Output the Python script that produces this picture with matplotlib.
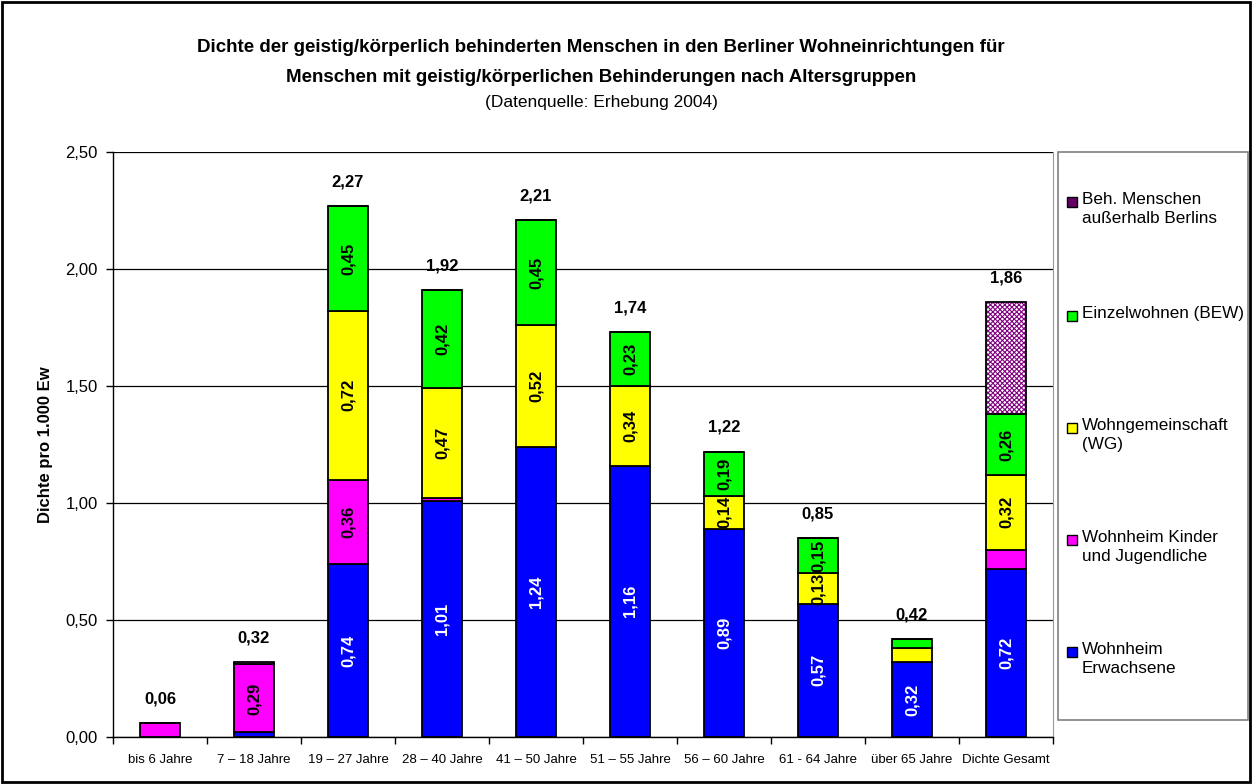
import matplotlib
matplotlib.use("Agg")
import matplotlib.pyplot as plt
from matplotlib.patches import Rectangle
from matplotlib.ticker import FuncFormatter
import numpy as np

plt.rcParams['font.family'] = ['Liberation Sans', 'DejaVu Sans']
plt.rcParams['hatch.linewidth'] = 0.8

# data
categories = ['bis 6 Jahre', '7 – 18 Jahre', '19 – 27 Jahre', '28 – 40 Jahre', '41 – 50 Jahre',
              '51 – 55 Jahre', '56 – 60 Jahre', '61 - 64 Jahre', 'über 65 Jahre', 'Dichte Gesamt']
wohnheim_erw = [0.00, 0.02, 0.74, 1.01, 1.24, 1.16, 0.89, 0.57, 0.32, 0.72]
wohnheim_kinder = [0.06, 0.29, 0.36, 0.01, 0.00, 0.00, 0.00, 0.00, 0.00, 0.08]
wg = [0.00, 0.00, 0.72, 0.47, 0.52, 0.34, 0.14, 0.13, 0.06, 0.32]
bew = [0.00, 0.00, 0.45, 0.42, 0.45, 0.23, 0.19, 0.15, 0.04, 0.26]
ausserhalb = [0.00, 0.01, 0.00, 0.00, 0.00, 0.00, 0.00, 0.00, 0.00, 0.48]
totals = [0.06, 0.32, 2.27, 1.92, 2.21, 1.74, 1.22, 0.85, 0.42, 1.86]

series_names = ['Wohnheim\nErwachsene', 'Wohnheim Kinder\nund Jugendliche', 'Wohngemeinschaft\n(WG)',
                'Einzelwohnen (BEW)', 'Beh. Menschen\naußerhalb Berlins']
colors = ['#0000FF', '#FF00FF', '#FFFF00', '#00FF00', '#660066']


def de(v):
    return f"{v:.2f}".replace('.', ',')


W, H = 1252, 784
fig = plt.figure(figsize=(W / 100, H / 100), dpi=100)
ax = fig.add_axes([113 / W, 1 - 737 / H, (1053 - 113) / W, (737 - 152) / H])

x = np.arange(len(categories))
bw = 0.42
bottom = np.zeros(len(categories))
data = [wohnheim_erw, wohnheim_kinder, wg, bew]
for i, vals in enumerate(data):
    vals = np.array(vals)
    c = ax.bar(x, vals, bw, bottom=bottom, color=colors[i], edgecolor='black', lw=1.3, zorder=3)
    labels = [de(v) if v >= 0.1 else '' for v in vals]
    ax.bar_label(c, labels=labels, label_type='center', rotation=90, fontsize=12,
                 fontweight='bold', color='white' if i == 0 else 'black', zorder=4)
    bottom += vals

# hatched top series
aus = np.array(ausserhalb)
ax.bar(x, aus, bw, bottom=bottom, facecolor='white', edgecolor='#800080', hatch='xxxxxxx',
       lw=0, zorder=3)
ctop = ax.bar(x, aus, bw, bottom=bottom, fill=False, edgecolor='black', lw=1.3, zorder=4)
ax.bar_label(ctop, labels=[de(t) for t in totals], padding=12, fontsize=12, fontweight='bold')

ax.set_xlim(-0.5, len(categories) - 0.5)
ax.set_ylim(0, 2.5)
ax.set_yticks(np.arange(0, 2.51, 0.5))
ax.yaxis.set_major_formatter(FuncFormatter(lambda v, p: de(v)))
ax.grid(axis='y', color='black', lw=0.9, zorder=0)
ax.set_xticks(x)
ax.set_xticklabels(categories, fontsize=9.5)
ax.set_xticks(np.arange(-0.5, len(categories), 1), minor=True)
ax.tick_params(axis='x', which='major', length=0, pad=12)
ax.tick_params(axis='x', which='minor', length=5, direction='out', width=1)
ax.tick_params(axis='y', length=5, width=1, labelsize=12, pad=6)
ax.spines['top'].set_visible(False)
ax.spines['right'].set_color('#999999')
ax.spines['left'].set_linewidth(1)
ax.spines['bottom'].set_linewidth(1)
fig.text(46 / W, 1 - 445 / H, 'Dichte pro 1.000 Ew', rotation=90, ha='center', va='center',
         fontsize=12, fontweight='bold')

# titles
fig.text(601 / W, 1 - 48 / H, 'Dichte der geistig/körperlich behinderten Menschen in den Berliner Wohneinrichtungen für',
         ha='center', va='center', fontsize=13.5, fontweight='bold')
fig.text(601 / W, 1 - 77 / H, 'Menschen mit geistig/körperlichen Behinderungen nach Altersgruppen',
         ha='center', va='center', fontsize=13.5, fontweight='bold')
fig.text(601 / W, 1 - 103 / H, '(Datenquelle: Erhebung 2004)', ha='center', va='center', fontsize=12.5)

# legend box
fig.add_artist(Rectangle((1058 / W, 1 - 720 / H), (1248 - 1058) / W, (720 - 152) / H,
                         transform=fig.transFigure, fill=False, ec='#808080', lw=1.2))
legend_y = [202, 316, 428, 540, 652]
order = [4, 3, 2, 1, 0]
for yy, k in zip(legend_y, order):
    fig.add_artist(Rectangle((1067 / W, 1 - (yy + 5) / H), 10 / W, 10 / H, transform=fig.transFigure,
                             fc=colors[k], ec='black', lw=1))
    fig.text(1082 / W, 1 - (yy - 10) / H, series_names[k], ha='left', va='top', fontsize=12.3,
             linespacing=1.3)

# outer border
fig.add_artist(Rectangle((0.0015, 0.0025), 0.997, 0.995, transform=fig.transFigure,
                         fill=False, ec='black', lw=2))

fig.savefig('out.png', dpi=100)
